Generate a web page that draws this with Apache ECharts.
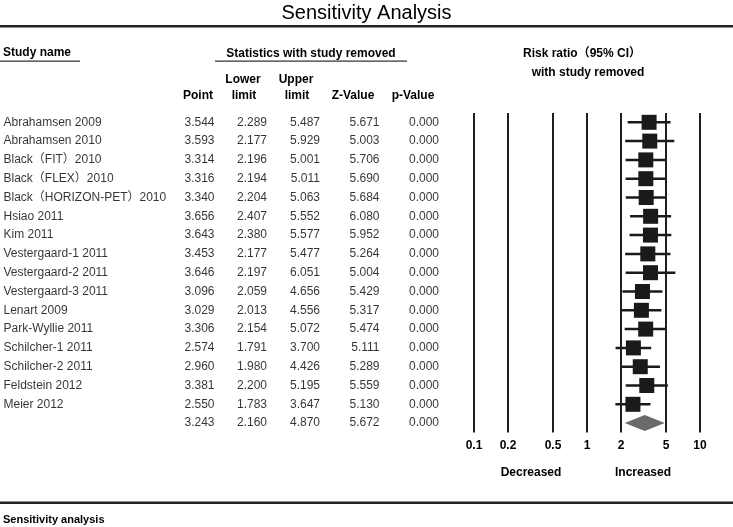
<!DOCTYPE html>
<html><head><meta charset="utf-8">
<script src="https://cdn.jsdelivr.net/npm/echarts@6/dist/echarts.min.js"></script>
<style>html,body{margin:0;padding:0;background:#fff}#c{width:733px;height:527px}</style>
</head><body><div id="c"></div>
<script>
const studies = ["Abrahamsen 2009","Abrahamsen 2010","Black（FIT）2010","Black（FLEX）2010","Black（HORIZON-PET）2010","Hsiao 2011","Kim 2011","Vestergaard-1 2011","Vestergaard-2 2011","Vestergaard-3 2011","Lenart 2009","Park-Wyllie 2011","Schilcher-1 2011","Schilcher-2 2011","Feldstein 2012","Meier 2012",""];
const pointVals = [3.544,3.593,3.314,3.316,3.340,3.656,3.643,3.453,3.646,3.096,3.029,3.306,2.574,2.960,3.381,2.550,3.243];
const lowerVals = [2.289,2.177,2.196,2.194,2.204,2.407,2.380,2.177,2.197,2.059,2.013,2.154,1.791,1.980,2.200,1.783,2.160];
const upperVals = [5.487,5.929,5.001,5.011,5.063,5.552,5.577,5.477,6.051,4.656,4.556,5.072,3.700,4.426,5.195,3.647,4.870];
const zVals = [5.671,5.003,5.706,5.690,5.684,6.080,5.952,5.264,5.004,5.429,5.317,5.474,5.111,5.289,5.559,5.130,5.672];
const pVals = [0.000,0.000,0.000,0.000,0.000,0.000,0.000,0.000,0.000,0.000,0.000,0.000,0.000,0.000,0.000,0.000,0.000];
const tickVals = [0.1,0.2,0.5,1,2,5,10];
const summaryIndex = 16;

const rowIds = studies.map((s,i)=>'r'+i);
const GT = 112.9, GH = 319.6;
const FONT = '"Liberation Sans", Arial, "Noto Sans CJK SC", sans-serif';
const ink = '#000';

const chart = echarts.init(document.getElementById('c'), null, {renderer:'canvas'});

function textCol(xPos, texts, pos){
  return {
    type:'scatter', xAxisIndex:1, yAxisIndex:1, silent:true,
    symbolSize:1, itemStyle:{color:'rgba(0,0,0,0)'},
    label:{show:true, position:pos, distance:0, color:ink, fontSize:12, fontFamily:FONT,
      formatter:p=>texts[p.dataIndex]},
    data: texts.map((t,i)=>[xPos, i])
  };
}

const forestData = pointVals.map((p,i)=>[p, lowerVals[i], upperVals[i], i]);

const option = {
  animation:false,
  title:{text:'Sensitivity Analysis', left:'center', top:-2,
    textStyle:{fontSize:20, fontWeight:'normal', color:ink, fontFamily:FONT}},
  grid:[
    {left:474, width:226, top:GT, height:GH},
    {left:0, width:733, top:GT, height:GH}
  ],
  xAxis:[
    {type:'log', logBase:10, min:0.1, max:10, gridIndex:0, axisLine:{show:false}, axisTick:{show:false}, axisLabel:{show:false}, splitLine:{show:false}},
    {type:'value', min:0, max:733, gridIndex:1, show:false}
  ],
  yAxis:[
    {type:'category', data:rowIds, inverse:true, gridIndex:0, axisLine:{show:false}, axisTick:{show:false}, axisLabel:{show:false}, splitLine:{show:false}},
    {type:'category', data:rowIds, inverse:true, gridIndex:1, show:false}
  ],
  graphic:[
    {type:'rect', shape:{x:0,y:25,width:733,height:2.5}, style:{fill:'#222'}},
    {type:'rect', shape:{x:0,y:501.5,width:733,height:2.5}, style:{fill:'#222'}},
    {type:'text', left:3, top:47, style:{text:'Study name', font:'bold 12px '+FONT, fill:ink}},
    {type:'rect', shape:{x:0,y:60.5,width:80,height:1.2}, style:{fill:'#333'}},
    {type:'text', x:311, y:54, style:{text:'Statistics with study removed', font:'bold 12px '+FONT, fill:ink, align:'center', verticalAlign:'middle'}},
    {type:'rect', shape:{x:215,y:60.5,width:192,height:1.2}, style:{fill:'#333'}},
    {type:'text', x:582, y:54, style:{text:'Risk ratio（95% CI）', font:'bold 12px '+FONT, fill:ink, align:'center', verticalAlign:'middle'}},
    {type:'text', x:588, y:73, style:{text:'with study removed', font:'bold 12px '+FONT, fill:ink, align:'center', verticalAlign:'middle'}},
    {type:'text', x:243, y:80, style:{text:'Lower', font:'bold 12px '+FONT, fill:ink, align:'center', verticalAlign:'middle'}},
    {type:'text', x:296, y:80, style:{text:'Upper', font:'bold 12px '+FONT, fill:ink, align:'center', verticalAlign:'middle'}},
    {type:'text', x:198, y:96, style:{text:'Point', font:'bold 12px '+FONT, fill:ink, align:'center', verticalAlign:'middle'}},
    {type:'text', x:244, y:96, style:{text:'limit', font:'bold 12px '+FONT, fill:ink, align:'center', verticalAlign:'middle'}},
    {type:'text', x:297, y:96, style:{text:'limit', font:'bold 12px '+FONT, fill:ink, align:'center', verticalAlign:'middle'}},
    {type:'text', x:353, y:96, style:{text:'Z-Value', font:'bold 12px '+FONT, fill:ink, align:'center', verticalAlign:'middle'}},
    {type:'text', x:413, y:96, style:{text:'p-Value', font:'bold 12px '+FONT, fill:ink, align:'center', verticalAlign:'middle'}},
    {type:'text', x:531, y:473, style:{text:'Decreased', font:'bold 12px '+FONT, fill:ink, align:'center', verticalAlign:'middle'}},
    {type:'text', x:643, y:473, style:{text:'Increased', font:'bold 12px '+FONT, fill:ink, align:'center', verticalAlign:'middle'}},
    {type:'text', left:3, top:514, style:{text:'Sensitivity analysis', font:'bold 11px '+FONT, fill:ink}}
  ],
  series:[
    {
      type:'scatter', xAxisIndex:0, yAxisIndex:0, silent:true,
      symbolSize:0, itemStyle:{color:'rgba(0,0,0,0)'},
      data: pointVals.map((p,i)=>[p,i]),
      markLine:{
        silent:true, symbol:'none', animation:false,
        lineStyle:{color:'#1f1f1f', width:2, type:'solid'},
        label:{show:true, position:'end', distance:7, color:ink, fontSize:12, fontWeight:'bold', fontFamily:FONT,
          formatter:p=>String(p.value)},
        data: tickVals.map(v=>({xAxis:v}))
      }
    },
    {
      type:'custom', xAxisIndex:0, yAxisIndex:0, silent:true,
      encode:{x:0, y:3},
      data: forestData,
      renderItem:(params, api)=>{
        const i = api.value(3);
        const c = api.coord([api.value(0), i]);
        const l = api.coord([api.value(1), i]);
        const u = api.coord([api.value(2), i]);
        if (i === summaryIndex){
          return {type:'polygon', shape:{points:[[l[0],c[1]],[c[0],c[1]-8],[u[0],c[1]],[c[0],c[1]+8]]},
            style:{fill:'#6a6a6a'}};
        }
        const s = 15;
        return {type:'group', children:[
          {type:'line', shape:{x1:l[0],y1:c[1],x2:u[0],y2:c[1]}, style:{stroke:'#1a1a1a', lineWidth:2.5}},
          {type:'rect', shape:{x:c[0]-s/2,y:c[1]-s/2,width:s,height:s}, style:{fill:'#1a1a1a'}}
        ]};
      }
    },
    textCol(3, studies, 'right'),
    textCol(215, pointVals.map(v=>v.toFixed(3)), 'left'),
    textCol(267.5, lowerVals.map(v=>v.toFixed(3)), 'left'),
    textCol(320.5, upperVals.map(v=>v.toFixed(3)), 'left'),
    textCol(380, zVals.map(v=>v.toFixed(3)), 'left'),
    textCol(439.5, pVals.map(v=>v.toFixed(3)), 'left')
  ]
};
chart.setOption(option);
</script></body></html>
